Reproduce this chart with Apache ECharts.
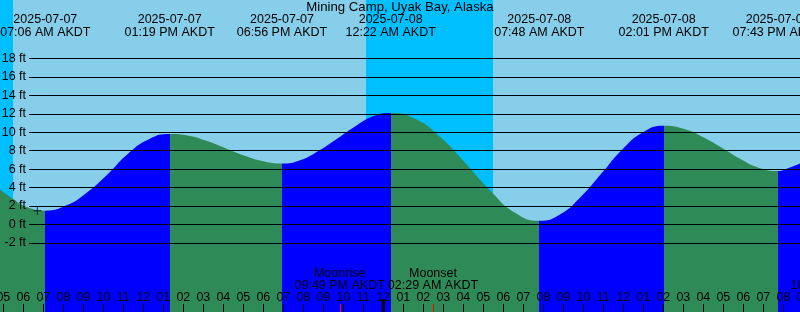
<!DOCTYPE html>
<html><head><meta charset="utf-8">
<script src="https://cdn.jsdelivr.net/npm/echarts@6/dist/echarts.min.js"></script>
<style>html,body{margin:0;padding:0;background:#87CEEB}#c{width:800px;height:312px}</style>
</head><body><div id="c"></div>
<script>
// ---------- data ----------
const chartTitle = 'Mining Camp, Uyak Bay, Alaska';
const tzName = 'AKDT';
const axisStart = '2025-07-07 04:00';
const axisEnd = '2025-07-08 21:00';

// tide extremes (labelled at top)
const tideEventTimes = ['2025-07-07 07:06', '2025-07-07 13:19', '2025-07-07 18:56', '2025-07-08 00:22', '2025-07-08 07:48', '2025-07-08 14:01', '2025-07-08 19:43'];
const tideEventHeights = [1.5, 9.8, 6.6, 12.1, 0.4, 10.7, 5.8];

// tide curve (ft)
const curveTimes = [
  '2025-07-07 04:50', '2025-07-07 05:30', '2025-07-07 06:06', '2025-07-07 07:06',
  '2025-07-07 08:08', '2025-07-07 09:10', '2025-07-07 10:13', '2025-07-07 11:15', '2025-07-07 12:17', '2025-07-07 13:19',
  '2025-07-07 14:15', '2025-07-07 15:11', '2025-07-07 16:08', '2025-07-07 17:04', '2025-07-07 18:00', '2025-07-07 18:56',
  '2025-07-07 19:50', '2025-07-07 20:45', '2025-07-07 21:39', '2025-07-07 22:34', '2025-07-07 23:28', '2025-07-08 00:22',
  '2025-07-08 01:37', '2025-07-08 02:50', '2025-07-08 04:05', '2025-07-08 05:19', '2025-07-08 06:34', '2025-07-08 07:48',
  '2025-07-08 08:50', '2025-07-08 09:52', '2025-07-08 10:55', '2025-07-08 11:57', '2025-07-08 12:59', '2025-07-08 14:01',
  '2025-07-08 14:58', '2025-07-08 15:55', '2025-07-08 16:52', '2025-07-08 17:49', '2025-07-08 18:46', '2025-07-08 19:43',
  '2025-07-08 20:18', '2025-07-08 20:50'
];
const curveHeights = [
  3.8, 2.75, 1.95, 1.5,
  2.05, 3.45, 5.45, 7.7, 9.25, 9.8,
  9.62, 9.05, 8.25, 7.45, 6.85, 6.6,
  6.97, 7.98, 9.25, 10.6, 11.7, 12.1,
  11.45, 9.5, 6.7, 3.75, 1.3, 0.4,
  1.09, 2.98, 5.55, 8.13, 10.0, 10.7,
  10.4, 9.55, 8.4, 7.15, 6.15, 5.8,
  6.15, 6.6
];

// night (deep sky blue) periods
const nightStarts = ['2025-07-07 04:00', '2025-07-07 23:08'];
const nightEnds = ['2025-07-07 05:29', '2025-07-08 05:29'];

// moon events
const moonTimes = ['2025-07-07 21:49', '2025-07-08 02:29', '2025-07-08 22:37'];
const moonNames = ['Moonrise', 'Moonset', 'Moonrise'];

const dayStarts = ['2025-07-08 00:00'];

const markerTimes = ['2025-07-07 06:42'];
const markerHeights = [1.5];

const heightLabels = [-2, 0, 2, 4, 6, 8, 10, 12, 14, 16, 18];
const yMin = -10, yMax = 26, yStep = 2;

// ---------- helpers ----------
const BASE = Date.UTC(2025, 6, 7);
function toH(s) {
  const [d, t] = s.split(' ');
  const [Y, M, D] = d.split('-').map(Number);
  const [h, m] = t.split(':').map(Number);
  return (Date.UTC(Y, M - 1, D, h, m) - BASE) / 3600000;
}
function fmt12(s) {
  const [h, m] = s.split(' ')[1].split(':').map(Number);
  const ap = h < 12 ? 'AM' : 'PM';
  return String((h % 12) || 12).padStart(2, '0') + ':' + String(m).padStart(2, '0') + ' ' + ap + ' ' + tzName;
}
const FF = '"Liberation Sans", Arial, sans-serif';
const FS = 12.5;
const RISE = '#0000FF', FALL = '#2E8B57', NIGHT = '#00BFFF', SKY = '#87CEEB';

const xMin = toH(axisStart), xMax = toH(axisEnd);

// visual pieces: rising = blue, falling = green
const ev = tideEventTimes.map(toH);
const pieces = [];
pieces.push({ lt: ev[0], color: tideEventHeights[0] < tideEventHeights[1] ? FALL : RISE });
for (let i = 1; i < ev.length; i++) {
  pieces.push({ gte: ev[i - 1], lt: ev[i], color: tideEventHeights[i] > tideEventHeights[i - 1] ? RISE : FALL });
}
const last = ev.length - 1;
pieces.push({ gte: ev[last], color: tideEventHeights[last] < tideEventHeights[last - 1] ? RISE : FALL });

const splitColors = [];
for (let v = yMin; v <= yMax; v += yStep) splitColors.push(heightLabels.includes(v) ? '#000' : 'rgba(0,0,0,0)');

function txt(text, x, y) {
  return { type: 'text', style: { text, x, y: y + 0.5, align: 'center', verticalAlign: 'middle', fill: '#000', fontSize: FS, fontFamily: FF } };
}

const chart = echarts.init(document.getElementById('c'), null, { renderer: 'canvas' });
chart.setOption({
  backgroundColor: SKY,
  animation: false,
  title: { text: chartTitle, left: 'center', top: 1, padding: 0,
    textStyle: { fontSize: 13.2, fontWeight: 'normal', color: '#000', fontFamily: FF } },
  grid: [
    { left: -16.667, right: -3.333, top: -15.3, bottom: -4.7, containLabel: false, outerBoundsMode: 'none' },
    { left: 29, right: -3.333, top: -15.3, bottom: -4.7, containLabel: false, outerBoundsMode: 'none' },
    { left: -16.667, right: -3.333, top: 0, bottom: 0, containLabel: false, outerBoundsMode: 'none' }
  ],
  xAxis: [
    { type: 'value', gridIndex: 0, min: xMin, max: xMax, show: false },
    { type: 'value', gridIndex: 1, min: xMin, max: xMax, show: false },
    { type: 'value', gridIndex: 2, min: xMin, max: xMax, interval: 1, position: 'bottom', z: 6,
      axisLine: { show: false },
      axisTick: { show: true, inside: true, length: 8, interval: 0, lineStyle: { color: '#000', width: 1 } },
      axisLabel: { show: true, inside: true, margin: 8, interval: 0, hideOverlap: false, showMinLabel: true, showMaxLabel: true,
        color: '#000', fontSize: FS, fontFamily: FF,
        formatter: v => { const h = ((Math.round(v) % 24) + 24) % 24; return String((h % 12) || 12).padStart(2, '0'); } },
      splitLine: { show: false } }
  ],
  yAxis: [
    { type: 'value', gridIndex: 0, min: yMin, max: yMax, show: false },
    { type: 'value', gridIndex: 1, min: yMin, max: yMax, interval: yStep, z: 5,
      axisLine: { show: false }, axisTick: { show: false },
      axisLabel: { margin: 3, color: '#000', fontSize: FS, fontFamily: FF, showMinLabel: true, showMaxLabel: true,
        formatter: v => heightLabels.includes(v) ? v + ' ft' : '' },
      splitLine: { show: true, lineStyle: { color: splitColors, width: 1 } } },
    { type: 'value', gridIndex: 2, min: 0, max: 1, show: false }
  ],
  visualMap: { type: 'piecewise', show: false, dimension: 0, seriesIndex: 1, pieces },
  series: [
    { type: 'custom', xAxisIndex: 0, yAxisIndex: 0, z: 1, silent: true,
      data: nightStarts.map((s, i) => [toH(s), toH(nightEnds[i])]),
      renderItem: (params, api) => {
        const x0 = api.coord([api.value(0), 0])[0];
        const x1 = api.coord([api.value(1), 0])[0];
        return { type: 'rect', shape: { x: x0, y: 0, width: x1 - x0, height: api.getHeight() }, style: { fill: NIGHT } };
      } },
    { type: 'line', xAxisIndex: 0, yAxisIndex: 0, z: 2, smooth: true, showSymbol: false, silent: true,
      data: curveTimes.map((t, i) => [toH(t), curveHeights[i]]),
      lineStyle: { width: 0 },
      areaStyle: { opacity: 1, origin: 'start' } },
    { type: 'scatter', xAxisIndex: 0, yAxisIndex: 0, z: 8, silent: true,
      data: markerTimes.map((t, i) => [toH(t), markerHeights[i]]),
      symbol: 'path://M0,3.5H8V4.5H0Z M3.5,0H4.5V8H3.5Z', symbolSize: 8,
      itemStyle: { color: '#000' } },
    { type: 'custom', xAxisIndex: 0, yAxisIndex: 0, z: 10, silent: true,
      data: tideEventTimes.map((t, i) => [toH(t), i]),
      renderItem: (params, api) => {
        const x = api.coord([api.value(0), 0])[0];
        const s = tideEventTimes[api.value(1)];
        return { type: 'group', children: [txt(s.split(' ')[0], x, 19.3), txt(fmt12(s), x, 31.7)] };
      } },
    { type: 'custom', xAxisIndex: 0, yAxisIndex: 0, z: 10, silent: true,
      data: moonTimes.map((t, i) => [toH(t), i]),
      renderItem: (params, api) => {
        const x = api.coord([api.value(0), 0])[0];
        const i = api.value(1);
        const H = api.getHeight();
        return { type: 'group', children: [
          { type: 'line', shape: { x1: Math.round(x) + 0.5, y1: H - 8, x2: Math.round(x) + 0.5, y2: H }, style: { stroke: '#FF0000', lineWidth: 1 } },
          txt(moonNames[i], x, 273.3), txt(fmt12(moonTimes[i]), x, 285.3)
        ] };
      } },
    { type: 'custom', xAxisIndex: 0, yAxisIndex: 0, z: 10, silent: true,
      data: dayStarts.map(toH),
      renderItem: (params, api) => {
        const x = api.coord([api.value(0), 0])[0];
        const H = api.getHeight();
        return { type: 'rect', shape: { x: x - 1.5, y: H - 13, width: 3, height: 13 }, style: { fill: '#000' } };
      } }
  ]
});
</script></body></html>
